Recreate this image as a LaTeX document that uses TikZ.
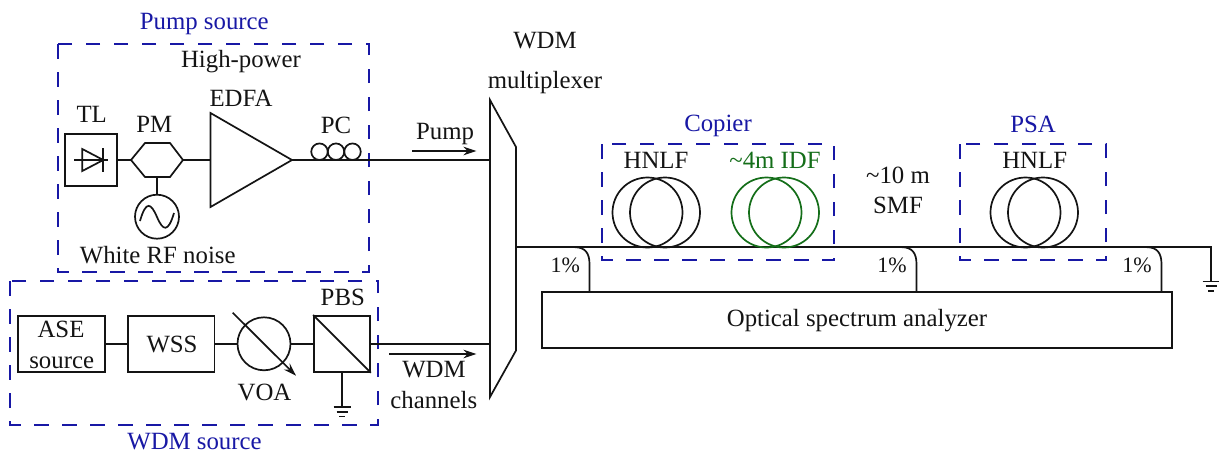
\documentclass[tikz,border=0pt]{standalone}
\usepackage{fontspec}
\setmainfont{Liberation Serif}
\usetikzlibrary{arrows.meta}
\definecolor{boxblue}{RGB}{24,24,165}
\definecolor{fibgreen}{RGB}{20,110,25}
\definecolor{ink}{RGB}{20,20,20}
\tikzset{
  wire/.style={draw=ink,line width=1.7pt},
  comp/.style={draw=ink,line width=1.7pt,rectangle,inner sep=0pt},
  round/.style={draw=ink,line width=1.7pt,circle,inner sep=0pt},
  group/.style={draw=boxblue,line width=1.6pt,dash pattern=on 14.5pt off 13.5pt},
  lab/.style={inner sep=0pt,anchor=base,font=\fontsize{24.8}{28}\selectfont,text=ink},
  tap/.style={lab,font=\fontsize{22}{26}\selectfont},
  bluelab/.style={lab,text=boxblue},
  sig/.style={draw=ink,line width=1.7pt,-{Stealth[length=13pt,width=8.5pt]}},
  coil/.style={draw=ink,line width=1.7pt,circle,inner sep=0pt,minimum size=70pt},
  ground/.pic={
    \draw[wire] (-8.5,0) -- (8.5,0);
    \draw[wire] (-5.5,4.7) -- (5.5,4.7);
    \draw[wire] (-3,9.4) -- (3,9.4);
  }
}
\begin{document}
\begin{tikzpicture}[x=1pt,y=-1pt]
\useasboundingbox[fill=white] (0,0) rectangle (1219,453);

% group boxes
\draw[group] (58,44) rectangle (369,272);
\draw[group] (10,281) rectangle (378,425);
\draw[group] (602,144) rectangle (834,260);
\draw[group] (960,144) rectangle (1106,260);

% pump source
\node[comp,minimum width=52pt,minimum height=52pt] (tl) at (91,160) {};
\coordinate (dl) at (74,160); \coordinate (dr) at (108,160);
\draw[wire] (dl) -- (dr);
\draw[wire] (82.3,149) -- (82.3,171) -- (103.3,160) -- cycle;
\draw[wire] (103.3,148) -- (103.3,172);
\coordinate (pmw) at (131,160); \coordinate (pme) at (183,160);
\coordinate (pms) at (157,177);
\draw[wire] (pmw) -- (145,143) -- (170,143) -- (pme) -- (170,177) -- (145,177) -- cycle;
\node[round,minimum size=44pt] (rf) at (157,216.7) {};
\draw[wire] (140,221) .. controls (146,200) and (151,203) .. (157,217)
   .. controls (163,231) and (168,233) .. (174,213);
\coordinate (edw) at (210.5,160); \coordinate (ede) at (292,160);
\draw[wire] (210.5,113) -- (ede) -- (210.5,207) -- cycle;
\node[round,minimum size=16.5pt] (pc1) at (319.5,151.7) {};
\node[round,minimum size=16.5pt] (pc2) at (336,151.7) {};
\node[round,minimum size=16.5pt] (pc3) at (352.5,151.7) {};
\draw[wire] (tl.east) -- (pmw);
\draw[wire] (pme) -- (edw);
\draw[wire] (pms) -- (rf.north);

% WDM source
\node[comp,minimum width=86.5pt,minimum height=56pt] (ase) at (61.5,343.8) {};
\node[comp,minimum width=86.5pt,minimum height=56pt] (wss) at (171.2,343.8) {};
\node[round,minimum size=53pt] (voa) at (264,343.8) {};
\coordinate (voaa) at (232.7,312.7); \coordinate (voab) at (296,375.7);
\draw[sig] (voaa) -- (voab);
\node[comp,minimum width=56pt,minimum height=56pt] (pbs) at (342,343.8) {};
\draw[wire] (pbs.north west) -- (pbs.south east);
\coordinate (gpbs) at (342,407);
\draw[wire] (pbs.south) -- (gpbs);
\pic at (gpbs) {ground};
\draw[wire] (ase.east) -- (wss.west);
\draw[wire] (wss.east) -- (voa.west);
\draw[wire] (voa.east) -- (pbs.west);

% multiplexer
\coordinate (mta) at (490,100); \coordinate (mtb) at (516,147);
\coordinate (mbb) at (516,350.5); \coordinate (mba) at (490,397);
\coordinate (min1) at (490,160); \coordinate (min2) at (490,343.8);
\coordinate (mout) at (516,247.2);
\draw[wire] (mta) -- (mtb) -- (mbb) -- (mba) -- cycle;
\draw[wire] (ede) -- (min1);
\draw[wire] (pbs.east) -- (min2);

% arrows
\coordinate (pa) at (412,151); \coordinate (pb) at (476.5,151);
\draw[sig] (pa) -- (pb);
\coordinate (wa) at (389,354); \coordinate (wb) at (476.5,354);
\draw[sig] (wa) -- (wb);

% main fibre and analyser
\coordinate (fend) at (1211,247.2);
\coordinate (gnd) at (1211,281.5);
\draw[wire] (mout) -- (fend) -- (gnd);
\pic at (gnd) {ground};
\node[comp,minimum width=630pt,minimum height=56pt] (osa) at (857,320) {};
\coordinate (t1a) at (575,247.2); \coordinate (t1b) at (589.5,292);
\coordinate (t2a) at (902,247.2); \coordinate (t2b) at (916.5,292);
\coordinate (t3a) at (1147,247.2); \coordinate (t3b) at (1161.5,292);
\draw[wire] (t1a) .. controls (585,247.2) and (589.5,253) .. (589.5,264) -- (t1b);
\draw[wire] (t2a) .. controls (912,247.2) and (916.5,253) .. (916.5,264) -- (t2b);
\draw[wire] (t3a) .. controls (1157,247.2) and (1161.5,253) .. (1161.5,264) -- (t3b);

% fibre coils
\node[coil] (c1a) at (647.5,212.5) {};
\node[coil] (c1b) at (665,212.5) {};
\node[coil,draw=fibgreen] (c2a) at (766.5,212.5) {};
\node[coil,draw=fibgreen] (c2b) at (784,212.5) {};
\node[coil] (c3a) at (1025.5,212.5) {};
\node[coil] (c3b) at (1043,212.5) {};

% labels
\node[bluelab] (l1) at (204.3,29.3) {Pump source};
\node[lab] (l2) at (241,67.7) {High-power};
\node[lab] (l3) at (91.7,122.7) {TL};
\node[lab] (l4) at (154.2,132.7) {PM};
\node[lab] (l5) at (241,106) {EDFA};
\node[lab] (l6) at (336,133.3) {PC};
\node[lab] (l7) at (157.7,263.3) {White RF noise};
\node[lab] (l8) at (445,139) {Pump};
\node[lab] (l9) at (545,48.5) {WDM};
\node[lab] (l10) at (545,88.5) {multiplexer};
\node[bluelab] (l11) at (718,131.7) {Copier};
\node[lab] (l12) at (656,168.5) {HNLF};
\node[lab,text=fibgreen] (l13) at (775,168.5) {\textasciitilde4m IDF};
\node[lab] (l14) at (898,183) {\textasciitilde10 m};
\node[lab] (l15) at (898,213.3) {SMF};
\node[bluelab] (l16) at (1033,132.5) {PSA};
\node[lab] (l17) at (1034.7,168.8) {HNLF};
\node[tap] (l18) at (565.3,272) {1\%};
\node[tap] (l19) at (892,272) {1\%};
\node[tap] (l20) at (1137,272) {1\%};
\node[lab] (l21) at (61,337) {ASE};
\node[lab] (l22) at (61.7,368) {source};
\node[lab] (l23) at (172,352) {WSS};
\node[lab] (l24) at (264.5,400) {VOA};
\node[lab] (l25) at (342.8,305.7) {PBS};
\node[lab] (l26) at (434,377.7) {WDM};
\node[lab] (l27) at (433.8,408.3) {channels};
\node[bluelab] (l28) at (194.5,449.3) {WDM source};
\node[lab] (l29) at (857,326.7) {Optical spectrum analyzer};
\end{tikzpicture}
\end{document}
